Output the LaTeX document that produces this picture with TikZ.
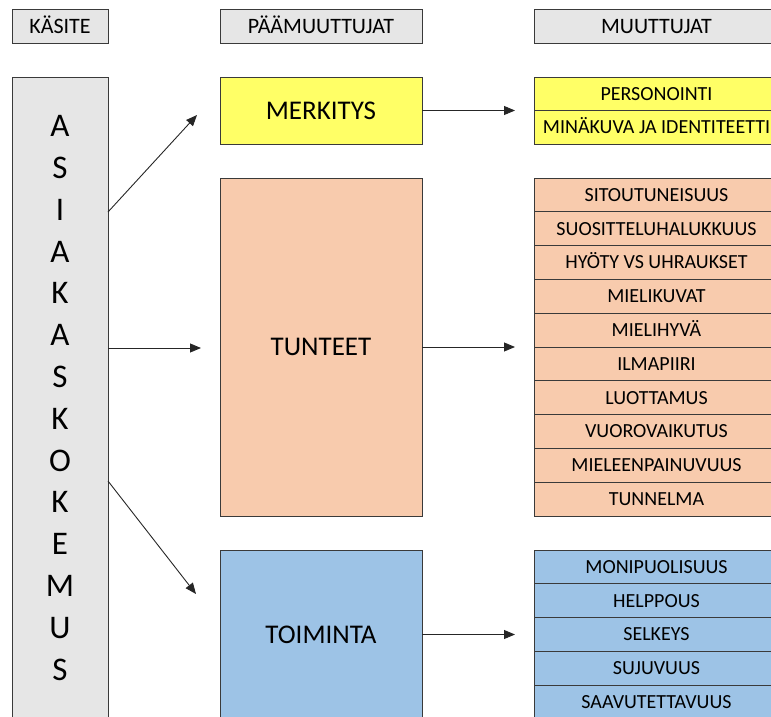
\documentclass[tikz,border=0pt]{standalone}
\usepackage{fontspec}
\setmainfont{Carlito}
\usetikzlibrary{arrows.meta}
\definecolor{hdrgray}{HTML}{E6E6E6}
\definecolor{ylw}{HTML}{FFFF66}
\definecolor{peach}{HTML}{F8CBAD}
\definecolor{skyb}{HTML}{9DC3E6}
\definecolor{edgec}{HTML}{3A3A3A}
\begin{document}
\begin{tikzpicture}[x=1pt,y=-1pt,
  box/.style={draw=edgec,line width=0.9pt,inner sep=0pt,outer sep=0pt,text depth=0pt,align=center},
  hdr/.style={box,fill=hdrgray,text height=14.2pt,font=\fontsize{22}{24}\selectfont},
  mainbox/.style={box,minimum width=202,text height=17.4pt,font=\fontsize{27}{29}\selectfont},
  item/.style={box,minimum width=245,minimum height=33.8,text height=12.9pt,font=\fontsize{20}{22}\selectfont},
  big/.style={inner sep=0pt,text height=21.3pt,text depth=0pt,font=\fontsize{33}{35}\selectfont},
  arr/.style={draw=black!85,line width=0.9pt,-{Triangle[length=11pt,width=9pt]}}
]
\useasboundingbox (0,0) rectangle (771,717);
\begin{scope}
\clip (0,0) rectangle (771,717);
% headers
\node[hdr,minimum width=96,minimum height=34] (hk) at (60,26) {KÄSITE};
\node[hdr,minimum width=202,minimum height=34] (hp) at (321,26) {PÄÄMUUTTUJAT};
\node[hdr,minimum width=245,minimum height=34] (hm) at (656.5,26) {MUUTTUJAT};
% left tall box
\node[box,fill=hdrgray,minimum width=96,minimum height=642] (ak) at (60,398) {};
\foreach \ch [count=\i from 0] in {A,S,I,A,K,A,S,K,O,K,E,M,U,S}
  \node[big] (l\i) at (60,{126+41.8*\i}) {\ch};
% main boxes
\node[mainbox,fill=ylw,minimum height=67] (me) at (321,110.5) {MERKITYS};
\node[mainbox,fill=peach,minimum height=338] (tu) at (321,347) {TUNTEET};
\node[mainbox,fill=skyb,minimum height=169] (to) at (321,634.5) {TOIMINTA};
% lists
\foreach \t [count=\i from 0] in {PERSONOINTI,MINÄKUVA JA IDENTITEETTI}
  \node[item,fill=ylw,minimum height=33.5] (m\i) at (656.5,{77+33.5*\i+16.75}) {\t};
\foreach \t [count=\i from 0] in {SITOUTUNEISUUS,SUOSITTELUHALUKKUUS,HYÖTY VS UHRAUKSET,MIELIKUVAT,MIELIHYVÄ,ILMAPIIRI,LUOTTAMUS,VUOROVAIKUTUS,MIELEENPAINUVUUS,TUNNELMA}
  \node[item,fill=peach] (t\i) at (656.5,{178+33.8*\i+16.9}) {\t};
\foreach \t [count=\i from 0] in {MONIPUOLISUUS,HELPPOUS,SELKEYS,SUJUVUUS,SAAVUTETTAVUUS}
  \node[item,fill=skyb] (s\i) at (656.5,{550+33.8*\i+16.9}) {\t};
\end{scope}
% arrows
\coordinate (a1) at ([yshift=-135pt]ak.north east);
\coordinate (a2) at ([yshift=-271pt]ak.north east);
\coordinate (a3) at ([yshift=-404pt]ak.north east);
\coordinate (e1) at (197,115);
\coordinate (e2) at (201,348);
\coordinate (e3) at (196,594);
\draw[arr] (a1) -- (e1);
\draw[arr] (a2) -- (e2);
\draw[arr] (a3) -- (e3);
\coordinate (f1) at (515,110.5);
\coordinate (f2) at (515,347);
\coordinate (f3) at (515,634.5);
\draw[arr] (me.east) -- (f1);
\draw[arr] (tu.east) -- (f2);
\draw[arr] (to.east) -- (f3);
\end{tikzpicture}
\end{document}
